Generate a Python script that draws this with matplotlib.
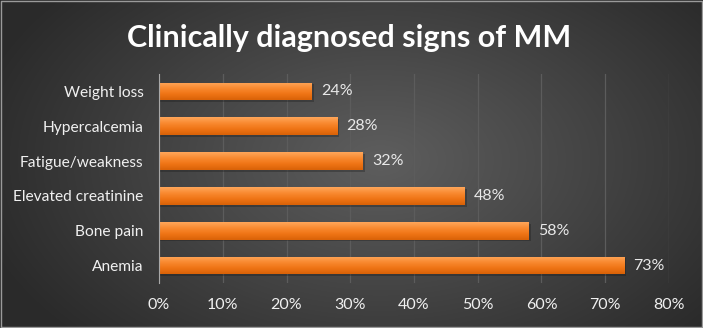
import numpy as np
import matplotlib
matplotlib.use('Agg')
import matplotlib.pyplot as plt
from matplotlib.colors import LinearSegmentedColormap
from matplotlib.ticker import FuncFormatter

# data (top to bottom as in the picture)
signs = ['Weight loss', 'Hypercalcemia', 'Fatigue/weakness',
         'Elevated creatinine', 'Bone pain', 'Anemia']
percent = [24, 28, 32, 48, 58, 73]
xticks = [0, 10, 20, 30, 40, 50, 60, 70, 80]

plt.rcParams['font.family'] = ['Lato', 'DejaVu Sans']

fig = plt.figure(figsize=(7.03, 3.28), dpi=100)

# radial grey background
bg = fig.add_axes([0, 0, 1, 1])
bg.set_axis_off()
yy, xx = np.mgrid[0:328, 0:703]
r = np.sqrt(((xx - 380) / 420.0) ** 2 + ((yy - 160) / 260.0) ** 2)
r = np.clip(r, 0, 1)
bg_cmap = LinearSegmentedColormap.from_list('bg', ['#5e5e5e', '#444444', '#2a2a2a'])
bg.imshow(r, cmap=bg_cmap, aspect='auto', extent=[0, 1, 0, 1], vmin=0, vmax=1)
bg.set_xlim(0, 1)
bg.set_ylim(0, 1)
# thin light frame
bg.plot([0.002, 0.998, 0.998, 0.002, 0.002], [0.004, 0.004, 0.996, 0.996, 0.004],
        color='#9a9a9a', lw=1.0)

ax = fig.add_axes([0.2262, 0.1372, 0.7254, 0.6372])
ax.patch.set_alpha(0)

n = len(signs)
pos = np.arange(n)[::-1]
h = 0.51

bar_cmap = LinearSegmentedColormap.from_list('bar', ['#ffa65a', '#f98a30', '#ef7415', '#d96208'])
grad = np.linspace(0, 1, 50).reshape(-1, 1)

for y, v in zip(pos, percent):
    # soft shadow
    ax.barh(y - 0.05, v + 0.25, height=h, left=0.05, color='#151515', alpha=0.3,
            zorder=2, linewidth=0)
    b = ax.barh(y, v, height=h, color='#f47b20', zorder=3, linewidth=0)[0]
    im = ax.imshow(grad, cmap=bar_cmap, aspect='auto', zorder=4,
                   extent=[0, v, y - h / 2, y + h / 2], origin='upper')
    im.set_clip_path(b)
    ax.text(v + 1.4, y, f'{v}%', va='center', ha='left', color='#e8e8e8',
            fontsize=11.5, zorder=5)

ax.set_xlim(0, 80)
ax.set_ylim(-0.5, n - 0.5)
ax.set_yticks(pos)
ax.set_yticklabels(signs, color='#f0f0f0', fontsize=11.2)
ax.set_xticks(xticks)
ax.xaxis.set_major_formatter(FuncFormatter(lambda v, p: f'{int(v)}%'))
ax.tick_params(axis='x', colors='#f0f0f0', labelsize=11.5, length=0, pad=11)
ax.tick_params(axis='y', length=0, pad=11)
ax.grid(axis='x', color='#5c5c5c', lw=0.9, zorder=1)
for s in ['top', 'right', 'bottom']:
    ax.spines[s].set_visible(False)
ax.spines['left'].set_color('#a8a8a8')
ax.spines['left'].set_zorder(6)

fig.text(0.497, 0.885, 'Clinically diagnosed signs of MM', ha='center', va='center',
         color='white', fontsize=22, fontweight='bold')

fig.savefig('out.png', dpi=100)
